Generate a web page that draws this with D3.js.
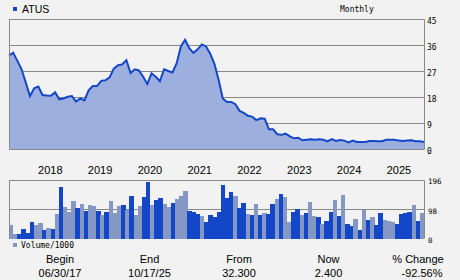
<!DOCTYPE html>
<html lang="en">
<head>
  <meta charset="UTF-8">
  <title>ATUS Monthly</title>
  <script src="https://d3js.org/d3.v7.min.js"></script>
  <style>
    body {
      margin: 0;
      background: #f2f2f2;
    }

    svg {
      display: block;
    }

    .mono {
      font-family: "DejaVu Sans Mono", monospace;
    }

    .sans {
      font-family: "Liberation Sans", Arial, sans-serif;
    }
  </style>
</head>
<body>
  <svg id="chart" width="460" height="280"></svg>

  <script>
    // monthly closes, Jun 2017 .. Sep 2025
    const price = [
      32.3, 33.3, 30.5, 27.6, 23.0, 18.3, 21.0, 21.6, 18.7, 18.5,
      18.4, 19.6, 17.2, 17.5, 18.1, 18.3, 16.4, 17.5, 16.8, 20.3,
      21.8, 21.8, 23.6, 23.8, 24.8, 27.8, 29.0, 29.3, 30.8, 26.3,
      27.6, 27.2, 25.0, 22.5, 26.2, 25.0, 23.5, 27.6, 27.0, 26.5,
      29.7, 35.5, 37.8, 34.9, 33.3, 34.5, 36.2, 35.5, 33.0, 29.5,
      24.0, 17.5, 16.3, 16.3, 15.5, 13.2, 12.5, 11.5, 11.2, 10.0,
      10.6, 10.5, 6.8, 6.8, 5.1, 4.9, 5.3, 4.4, 3.7, 3.9,
      3.0, 3.2, 3.4, 3.2, 3.4, 3.2, 2.6, 3.4, 2.8, 3.1,
      2.9, 2.3, 2.9, 2.4, 2.4, 2.4, 2.8, 2.8, 2.7, 2.7,
      3.2, 3.2, 3.2, 2.9, 2.8, 2.9, 3.0, 2.7, 2.7, 2.4
    ];

    // volume in thousands
    const volume = [
      45, 15, 15, 32, 19, 55, 45, 51, 28, 35,
      32, 81, 170, 104, 88, 124, 101, 114, 91, 111,
      108, 91, 78, 88, 124, 85, 108, 111, 94, 141,
      78, 108, 137, 187, 111, 127, 134, 114, 104, 118,
      131, 141, 157, 91, 88, 81, 75, 55, 78, 71,
      88, 177, 134, 154, 141, 101, 118, 81, 78, 114,
      78, 85, 81, 114, 131, 147, 137, 55, 88, 98,
      78, 85, 121, 75, 71, 48, 58, 88, 127, 75,
      144, 48, 41, 65, 28, 94, 61, 71, 45, 85,
      61, 58, 55, 48, 81, 85, 88, 111, 58, 85
    ];

    // 1 = dark bar, 0 = light bar
    const volUp = [
      0, 0, 1, 1, 1, 1, 0, 0, 1, 0,
      1, 0, 1, 0, 0, 0, 1, 0, 1, 0,
      0, 1, 0, 1, 0, 0, 0, 1, 0, 1,
      0, 0, 1, 1, 0, 1, 1, 0, 0, 1,
      0, 0, 0, 1, 1, 1, 0, 1, 1, 1,
      1, 1, 1, 1, 0, 1, 1, 0, 1, 0,
      1, 0, 1, 1, 0, 1, 0, 0, 1, 1,
      0, 1, 0, 0, 1, 0, 1, 1, 0, 1,
      0, 1, 1, 0, 1, 0, 1, 0, 1, 1,
      0, 0, 0, 1, 1, 1, 1, 0, 1, 0
    ];

    const priceTicks = [0, 9, 18, 27, 36, 45];
    const volTicks = [0, 98, 196];
    const statHeads = ["Begin", "End", "From", "Now", "% Change"];
    const statVals = ["06/30/17", "10/17/25", "32.300", "2.400", "-92.56%"];

    const months = d3.timeMonth.range(new Date(2017, 5, 1), new Date(2025, 8, 2));

    const dark = "#1446c8";
    const light = "#8598c4";
    const gridCol = "#888";

    const svg = d3.select("#chart");
    const left = 9, right = 424;

    // scales
    const xLine = d3.scaleLinear().domain([0, price.length - 1]).range([left, right]);
    const xBand = d3.scaleBand().domain(d3.range(volume.length)).range([left, right]);
    const yPrice = d3.scaleLinear().domain([0, 45]).range([149, 19]);
    const yVol = d3.scaleLinear().domain([0, 196]).range([238.5, 179.5]);

    // price grid
    svg.append("g")
      .selectAll("line")
      .data(priceTicks)
      .enter().append("line")
      .attr("x1", left).attr("x2", right)
      .attr("y1", d => Math.round(yPrice(d)) + 0.5)
      .attr("y2", d => Math.round(yPrice(d)) + 0.5)
      .attr("stroke", gridCol);

    // area + line
    const area = d3.area()
      .x((d, i) => xLine(i))
      .y0(yPrice(0))
      .y1(d => yPrice(d));

    const line = d3.line()
      .x((d, i) => xLine(i))
      .y(d => yPrice(d));

    svg.append("path")
      .datum(price)
      .attr("d", area)
      .attr("fill", "#9dafde");

    svg.append("path")
      .datum(price)
      .attr("d", line)
      .attr("fill", "none")
      .attr("stroke", dark)
      .attr("stroke-width", 2);

    // price frame
    svg.append("path")
      .attr("d", `M${left + 0.5},${yPrice(0) + 0.5}V${yPrice(45) + 0.5}H${right + 0.5}V${yPrice(0) + 0.5}`)
      .attr("fill", "none")
      .attr("stroke", gridCol);

    // right price axis
    const pAxis = svg.append("g")
      .attr("class", "mono")
      .attr("transform", `translate(${right},0)`)
      .call(d3.axisRight(yPrice).tickValues(priceTicks).tickSize(0).tickPadding(3));
    pAxis.select(".domain").remove();
    pAxis.selectAll("text")
      .attr("dy", "0.62em")
      .attr("font-size", 8)
      .attr("font-family", "DejaVu Sans Mono")
      .attr("fill", "#000");

    // year labels
    svg.append("g")
      .selectAll("text")
      .data(months.map((m, i) => ({ m, i })).filter(d => d.m.getMonth() === 0))
      .enter().append("text")
      .attr("class", "sans")
      .attr("x", d => xBand(d.i))
      .attr("y", 174)
      .attr("font-size", 11)
      .text(d => d.m.getFullYear());

    // volume grid
    svg.append("g")
      .selectAll("line")
      .data(volTicks.slice(1, 2))
      .enter().append("line")
      .attr("x1", left).attr("x2", right)
      .attr("y1", d => Math.round(yVol(d)) + 0.5)
      .attr("y2", d => Math.round(yVol(d)) + 0.5)
      .attr("stroke", gridCol);

    // volume bars
    svg.append("g")
      .selectAll("rect")
      .data(volume)
      .enter().append("rect")
      .attr("x", (d, i) => xBand(i))
      .attr("width", xBand.bandwidth() + 0.3)
      .attr("y", d => yVol(d))
      .attr("height", d => yVol(0) - yVol(d))
      .attr("fill", (d, i) => volUp[i] ? dark : light)
      .attr("shape-rendering", "crispEdges");

    // volume frame
    svg.append("path")
      .attr("d", `M${left + 0.5},${yVol(0)}V${Math.round(yVol(196)) + 0.5}H${right + 0.5}V${yVol(0)}`)
      .attr("fill", "none")
      .attr("stroke", gridCol);

    const vAxis = svg.append("g")
      .attr("transform", `translate(${right},0)`)
      .call(d3.axisRight(yVol).tickValues(volTicks).tickSize(0).tickPadding(4));
    vAxis.select(".domain").remove();
    vAxis.selectAll("text")
      .attr("dy", "0.55em")
      .attr("font-size", 7.5)
      .attr("font-family", "DejaVu Sans Mono")
      .attr("fill", "#000");

    // header legend
    svg.append("rect").attr("x", 13).attr("y", 7).attr("width", 4).attr("height", 4).attr("fill", dark);
    svg.append("text").attr("class", "sans").attr("x", 22).attr("y", 13)
      .attr("font-size", 10.5).text("ATUS");
    svg.append("text").attr("class", "mono").attr("x", 340).attr("y", 12)
      .attr("font-size", 8).text("Monthly");

    // volume legend
    svg.append("rect").attr("x", 13).attr("y", 243).attr("width", 4).attr("height", 4).attr("fill", light);
    svg.append("text").attr("class", "mono").attr("x", 21).attr("y", 247.5)
      .attr("font-size", 8).text("Volume/1000");

    // summary table
    const xStat = d3.scalePoint().domain(d3.range(statHeads.length)).range([60, 418]);
    const stats = svg.append("g").attr("class", "sans").attr("font-size", 11).attr("text-anchor", "middle");
    stats.selectAll(".head")
      .data(statHeads)
      .enter().append("text")
      .attr("class", "head")
      .attr("x", (d, i) => xStat(i))
      .attr("y", 263)
      .text(d => d);
    stats.selectAll(".val")
      .data(statVals)
      .enter().append("text")
      .attr("class", "val")
      .attr("x", (d, i) => xStat(i) + (i === 4 ? 4 : 0))
      .attr("y", 277)
      .text(d => d);
  </script>
</body>
</html>
